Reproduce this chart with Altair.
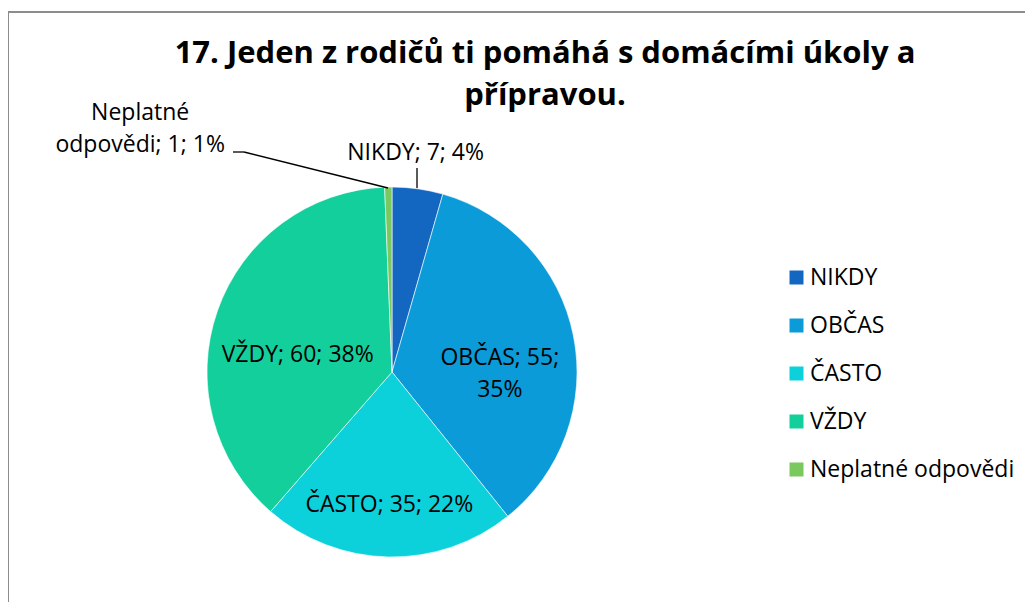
import math
import altair as alt
import pandas as pd

# ---- data ----
categories = ["NIKDY", "OBČAS", "ČASTO", "VŽDY", "Neplatné odpovědi"]
values = [7, 55, 35, 60, 1]
colors = ["#1467C1", "#0A9BD8", "#0CD0DA", "#13CF9B", "#7AC95F"]
title_lines = ["17. Jeden z rodičů ti pomáhá s domácími úkoly a", "přípravou."]

total = sum(values)
cum = 0
mids, labels = [], []
for c, v in zip(categories, values):
    mids.append(cum + v / 2)
    cum += v
    p = round(100 * v / total)
    labels.append(f"{c}; {v}; {p}%")

df = pd.DataFrame({
    "cat": categories,
    "value": values,
    "order": list(range(len(categories))),
    "mid": mids,
    "label": labels,
})
df.loc[df.cat == "OBČAS", "label"] = "OBČAS; 55;\n35%"
df.loc[df.cat == "Neplatné odpovědi", "label"] = "Neplatné\nodpovědi; 1; 1%"

FONT = "Open Sans"
W, H = 1017, 594
CX, CY, R = 384, 364, 185

color_scale = alt.Scale(domain=categories, range=colors)
theta_scale = alt.Scale(domain=[0, total], range=[0, 2 * math.pi])

pie = alt.Chart(df).mark_arc(outerRadius=R, stroke="white", strokeWidth=0.6).encode(
    theta=alt.Theta("value:Q", stack=True),
    order=alt.Order("order:Q"),
    color=alt.Color(
        "cat:N",
        scale=color_scale,
        sort=categories,
        legend=alt.Legend(
            title=None,
            orient="none",
            legendX=777,
            legendY=258,
            padding=0,
            symbolType="square",
            symbolSize=196,
            symbolStrokeWidth=0,
            labelFont=FONT,
            labelFontSize=23,
            labelColor="#000000",
            labelOffset=2,
            rowPadding=24,
            labelLimit=400,
        ),
    ),
    x=alt.value(CX),
    y=alt.value(CY),
)


def label_layer(cat, radius, dx=0, dy=0):
    return alt.Chart(df).transform_filter(alt.datum.cat == cat).mark_text(
        font=FONT, fontSize=23, color="#000000", align="center", baseline="middle",
        lineBreak="\n", lineHeight=32, dx=dx, dy=dy,
    ).encode(
        theta=alt.Theta("mid:Q", scale=theta_scale, stack=False),
        radius=alt.value(radius),
        x=alt.value(CX),
        y=alt.value(CY),
        text="label:N",
    )


labels_layers = [
    label_layer("NIKDY", 221, dx=-7),
    label_layer("OBČAS", 110, dy=8),
    label_layer("ČASTO", 133),
    label_layer("VŽDY", 100, dy=16),
    label_layer("Neplatné odpovědi", 243, dx=-247, dy=-16),
]

leader_nikdy = alt.Chart(df).transform_filter(alt.datum.cat == "NIKDY").mark_rule(
    color="#000000", strokeWidth=1.3
).encode(x=alt.value(409), y=alt.value(160), y2=alt.value(180))

leader_nep1 = alt.Chart(df).transform_filter(alt.datum.cat == "NIKDY").mark_rule(
    color="#000000", strokeWidth=1.3
).encode(x=alt.value(225), x2=alt.value(236), y=alt.value(144))

leader_nep2 = alt.Chart(df).transform_filter(alt.datum.cat == "NIKDY").mark_rule(
    color="#000000", strokeWidth=1.3
).encode(x=alt.value(236), x2=alt.value(380), y=alt.value(144), y2=alt.value(180))

title_df = pd.DataFrame({"text": ["\n".join(title_lines)]})
title = alt.Chart(title_df).mark_text(
    font=FONT, fontSize=31, fontWeight="bold", color="#000000",
    align="center", baseline="alphabetic", lineBreak="\n", lineHeight=42,
).encode(
    x=alt.value(537),
    y=alt.value(55),
    text="text:N",
)

border_left = alt.Chart(df).transform_filter(alt.datum.cat == "NIKDY").mark_rule(
    color="#8c8c8c", strokeWidth=2
).encode(x=alt.value(0), y=alt.value(4), y2=alt.value(H))
border_top = alt.Chart(df).transform_filter(alt.datum.cat == "NIKDY").mark_rule(
    color="#8c8c8c", strokeWidth=2
).encode(x=alt.value(0), x2=alt.value(W), y=alt.value(4))

chart = alt.layer(
    pie, *labels_layers, leader_nikdy, leader_nep1, leader_nep2, title, border_left, border_top
).properties(
    width=W, height=H, padding=0, autosize=alt.AutoSizeParams(type="none"),
    background="white",
).configure_view(stroke=None)

chart.save("out.html", embed_options={"renderer": "svg", "actions": False})
